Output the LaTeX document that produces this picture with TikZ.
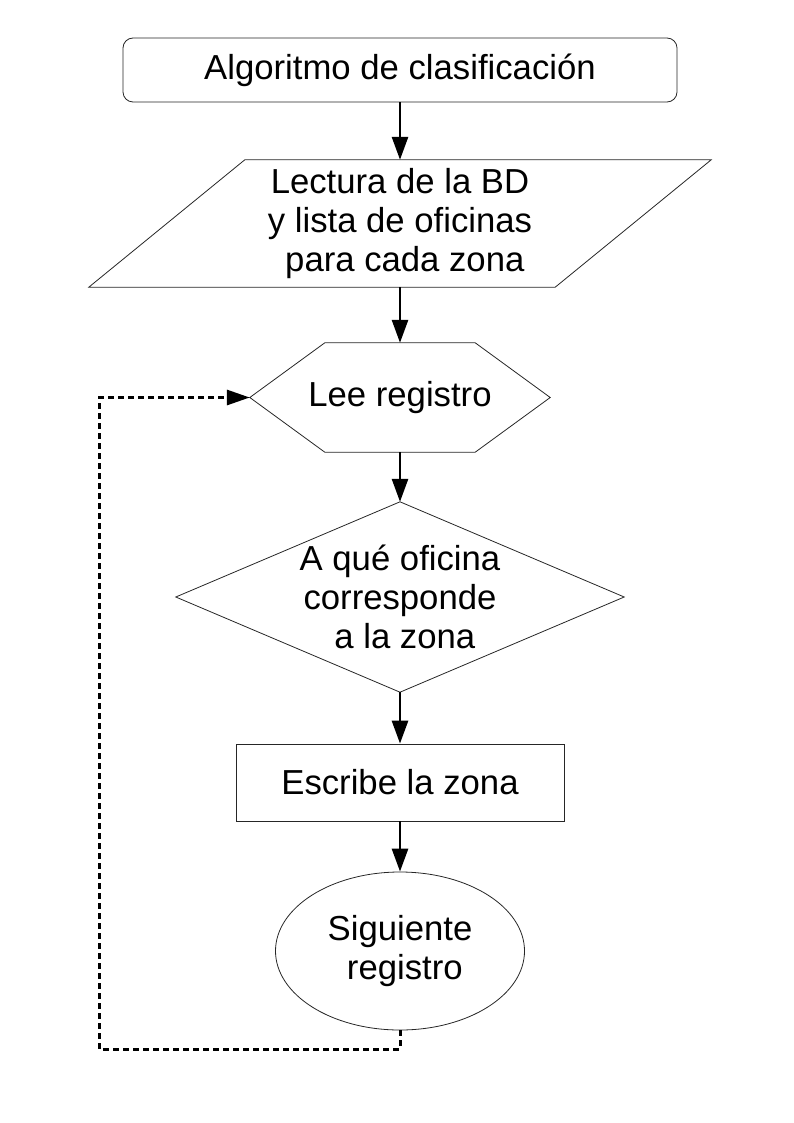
\documentclass[tikz,border=0pt]{standalone}
\usepackage{fontspec}
\setmainfont{Liberation Sans}
\usetikzlibrary{shapes.geometric,arrows.meta}

\begin{document}
\begin{tikzpicture}[x=1pt,y=-1pt,
        txt/.style={align=center,inner sep=0pt,font=\fontsize{34.7}{39}\selectfont},
        outline/.style={draw=black!85,line width=0.8pt},
        box/.style={txt,outline},
        flow/.style={line width=2.8pt,-{Triangle[length=23pt,width=16pt]}},
        back/.style={line width=3pt,dash pattern=on 6pt off 4pt,-{Triangle[length=23pt,width=15pt]}}]

        \useasboundingbox (0,0) rectangle (794,1123);

        %Start
        \node[box,rounded corners=10pt,minimum width=554pt,minimum height=64pt] (algo) at (400,70) {Algoritmo de clasificación};

        %Input: reading the data base
        \node[txt,minimum width=466pt,minimum height=127pt] (lectura) at (400,223.5) {Lectura de la BD\\y lista de oficinas\\~para cada zona};
        \draw[outline] ([xshift=78pt]lectura.north west) -- ([xshift=78pt]lectura.north east) -- ([xshift=-78pt]lectura.south east) -- ([xshift=-78pt]lectura.south west) -- cycle; %parallelogram

        %Loop start
        \node[txt,minimum width=300pt,minimum height=109pt] (lee) at (400,397.5) {Lee registro};
        \draw[outline] (lee.west) -- ([xshift=75pt]lee.north west) -- ([xshift=-75pt]lee.north east) -- (lee.east) -- ([xshift=-75pt]lee.south east) -- ([xshift=75pt]lee.south west) -- cycle; %hexagon

        %Decision
        \node[txt,minimum width=448pt,minimum height=190pt] (oficina) at (400,597) {A qué oficina\\corresponde\\~a la zona};
        \draw[outline] (oficina.north) -- (oficina.east) -- (oficina.south) -- (oficina.west) -- cycle; %diamond

        %Process
        \node[box,minimum width=328pt,minimum height=77pt] (escribe) at (400,782.5) {Escribe la zona};

        %Next record
        \node[box,ellipse,minimum width=249pt,minimum height=158pt] (siguiente) at (400,951) {Siguiente\\~registro};

        %Arrows between the steps
        \draw[flow] (algo.south) -- (lectura.north);
        \draw[flow] (lectura.south) -- (lee.north);
        \draw[flow] (lee.south) -- (oficina.north);
        \draw[flow] (oficina.south) -- (escribe.north);
        \draw[flow] (escribe.south) -- (siguiente.north);

        %Dashed line back to the loop start
        \coordinate (vuelta) at (99,1049);
        \draw[back] (siguiente.south) |- (vuelta) |- (lee.west);

\end{tikzpicture}
\end{document}
